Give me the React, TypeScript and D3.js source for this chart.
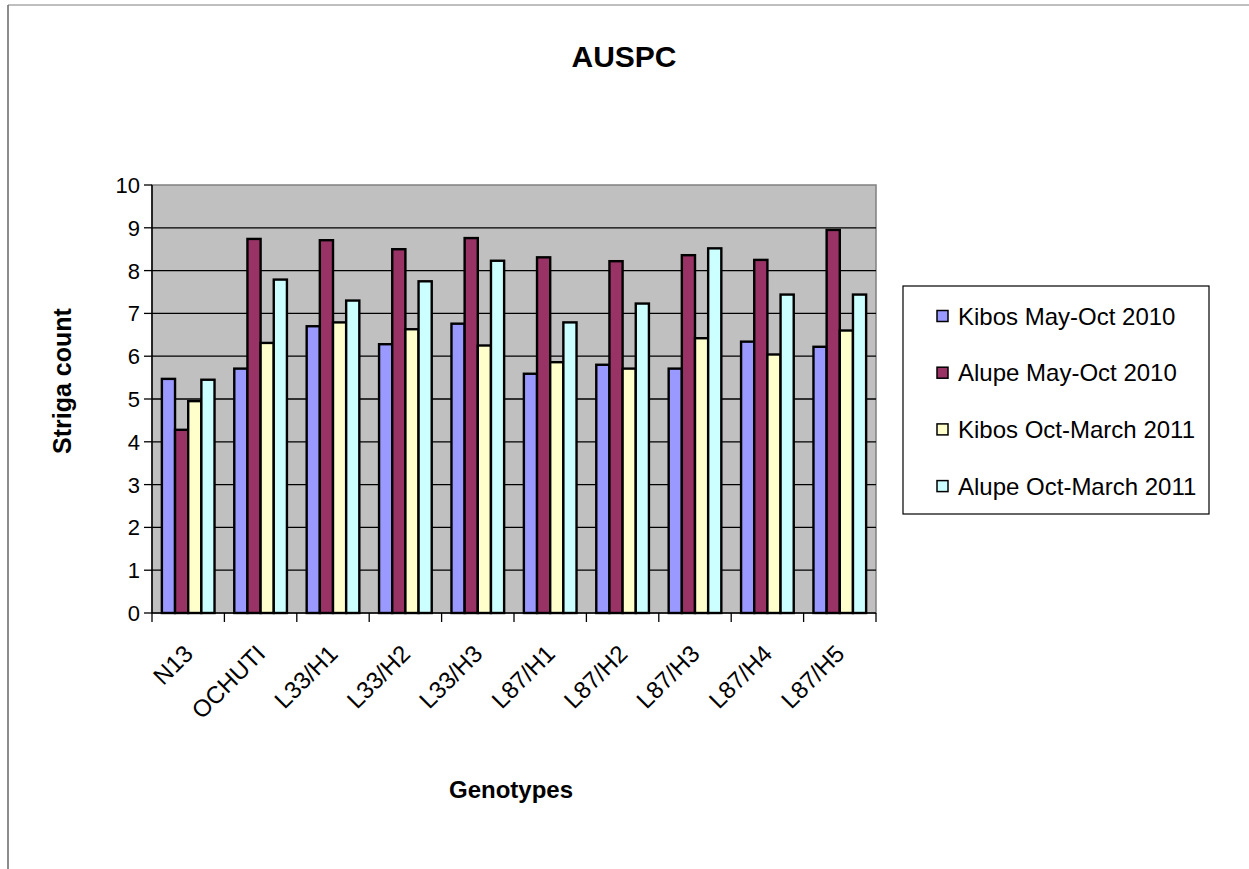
import React from "react";
import * as d3 from "d3";

const categories = ["N13", "OCHUTI", "L33/H1", "L33/H2", "L33/H3", "L87/H1", "L87/H2", "L87/H3", "L87/H4", "L87/H5"];
const seriesNames = ["Kibos May-Oct 2010", "Alupe May-Oct 2010", "Kibos Oct-March 2011", "Alupe Oct-March 2011"];
const kibosMayOct2010 = [5.47, 5.71, 6.70, 6.28, 6.76, 5.59, 5.80, 5.71, 6.34, 6.22];
const alupeMayOct2010 = [4.28, 8.74, 8.71, 8.50, 8.76, 8.31, 8.22, 8.36, 8.25, 8.95];
const kibosOctMar2011 = [4.95, 6.31, 6.79, 6.63, 6.25, 5.86, 5.71, 6.42, 6.04, 6.60];
const alupeOctMar2011 = [5.45, 7.79, 7.30, 7.75, 8.23, 6.79, 7.23, 8.52, 7.44, 7.44];
const seriesColors = ["#9999FF", "#993366", "#FFFFCC", "#CCFFFF"];
const yTicks = [0, 1, 2, 3, 4, 5, 6, 7, 8, 9, 10];

const W = 1249;
const H = 869;
const plot = { left: 152, right: 876, top: 185, bottom: 613 };

export default function App() {
  const series = [kibosMayOct2010, alupeMayOct2010, kibosOctMar2011, alupeOctMar2011];
  const x = d3.scaleBand<string>().domain(categories).range([plot.left, plot.right]).paddingInner(0).paddingOuter(0);
  const bw = x.bandwidth();
  const barW = bw / 5.5;
  const groupOffset = (bw - barW * 4) / 2;
  const y = d3.scaleLinear().domain([0, 10]).range([plot.bottom, plot.top]);
  const font = "Arial, 'Liberation Sans', sans-serif";

  return (
    <svg width={W} height={H} style={{ position: "absolute", left: 0, top: 0 }} fontFamily={font}>
      <rect x={0} y={0} width={W} height={H} fill="#fff" />
      <line x1={8} x2={W} y1={5} y2={5} stroke="#aaaaaa" strokeWidth={1.5} />
      <line x1={8} x2={8} y1={5} y2={H} stroke="#666666" strokeWidth={1.5} />

      <text x={624} y={67} textAnchor="middle" fontSize={30} fontWeight="bold">AUSPC</text>

      <rect x={plot.left} y={plot.top} width={plot.right - plot.left} height={plot.bottom - plot.top} fill="#C0C0C0" stroke="#808080" strokeWidth={1.5} />
      {yTicks.filter((t) => t > 0 && t < 10).map((t) => (
        <line key={"g" + t} x1={plot.left} x2={plot.right} y1={y(t)} y2={y(t)} stroke="#000" strokeWidth={1.3} />
      ))}

      {categories.map((c, i) => (
        <g key={c}>
          {series.map((s, j) => {
            const bx = (x(c) as number) + groupOffset + j * barW;
            return (
              <rect key={j} x={bx} y={y(s[i])} width={barW} height={y(0) - y(s[i])} fill={seriesColors[j]} stroke="#000" strokeWidth={2.4} />
            );
          })}
        </g>
      ))}

      <line x1={plot.left} x2={plot.left} y1={plot.top} y2={plot.bottom} stroke="#000" strokeWidth={1.5} />
      <line x1={plot.left} x2={plot.right} y1={plot.bottom} y2={plot.bottom} stroke="#000" strokeWidth={1.5} />
      {yTicks.map((t) => (
        <g key={"y" + t}>
          <line x1={plot.left - 8} x2={plot.left} y1={y(t)} y2={y(t)} stroke="#000" strokeWidth={1.3} />
          <text x={plot.left - 12} y={y(t)} dy="0.36em" textAnchor="end" fontSize={22}>{t}</text>
        </g>
      ))}
      {categories.concat(["__end"]).map((c, i) => {
        const tx = plot.left + i * bw;
        return <line key={"xt" + i} x1={tx} x2={tx} y1={plot.bottom} y2={plot.bottom + 9} stroke="#000" strokeWidth={1.3} />;
      })}
      {categories.map((c) => {
        const cx = (x(c) as number) + bw / 2;
        return (
          <text key={"xl" + c} transform={`translate(${cx - 6},${643}) rotate(-45)`} dy="0.72em" textAnchor="end" fontSize={24}>{c}</text>
        );
      })}

      <text x={511} y={798} textAnchor="middle" fontSize={24} fontWeight="bold">Genotypes</text>
      <text transform={`translate(71,381) rotate(-90)`} textAnchor="middle" fontSize={25} fontWeight="bold">Striga count</text>

      <rect x={903} y={286} width={306} height={228} fill="#fff" stroke="#000" strokeWidth={1.2} />
      {seriesNames.map((n, j) => {
        const ly = 316 + j * 56.7;
        return (
          <g key={n}>
            <rect x={937} y={ly - 5.5} width={11} height={11} fill={seriesColors[j]} stroke="#000" strokeWidth={1.5} />
            <text x={958} y={ly} dy="0.36em" fontSize={24} textLength={j === 0 ? undefined : undefined}>{n}</text>
          </g>
        );
      })}
    </svg>
  );
}
